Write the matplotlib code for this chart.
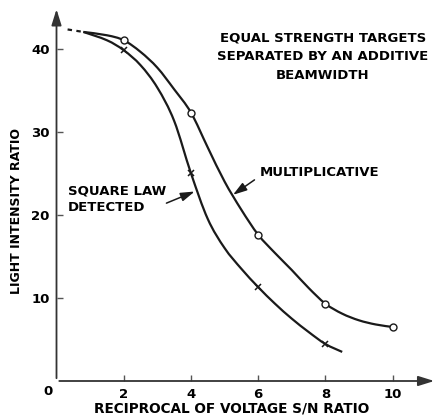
import numpy as np
import matplotlib.pyplot as plt
from matplotlib.path import Path
from matplotlib.patches import PathPatch

# valeurs
x_mult = [0.8, 1.5, 2.0, 2.5, 3.0, 3.5, 4.0, 4.5, 5.0, 5.5, 6.0,
          6.5, 7.0, 7.5, 8.0, 8.5, 9.0, 9.5, 10.0]
y_mult = [42.0, 41.6, 41.0, 39.6, 37.7, 35.1, 32.3, 28.1, 24.0, 20.6, 17.6,
          15.4, 13.35, 11.2, 9.3, 8.1, 7.3, 6.8, 6.5]

x_sq = [0.8, 1.5, 2.0, 2.5, 3.0, 3.5, 4.0, 4.5, 5.0, 5.5, 6.0,
        6.5, 7.0, 7.5, 8.0, 8.5]
y_sq = [42.0, 41.0, 39.8, 38.0, 35.3, 31.3, 25.0, 19.5, 16.0, 13.5, 11.3,
        9.3, 7.5, 5.9, 4.45, 3.5]

x_pts_mult = [2, 4, 6, 8, 10]
y_pts_mult = [41.0, 32.3, 17.6, 9.3, 6.5]
x_pts_sq = [2, 4, 6, 8]
y_pts_sq = [39.8, 25.0, 11.3, 4.45]

x_dash = [0.33, 0.8]
y_dash = [42.3, 42.0]

xticks = [2, 4, 6, 8, 10]
yticks = [10, 20, 30, 40]


def courbe_lisse(xs, ys):
    # courbe de bezier qui passe par les points (catmull-rom)
    p = np.column_stack([xs, ys])
    p = np.vstack([p[0], p, p[-1]])
    verts = [p[1]]
    codes = [Path.MOVETO]
    for i in range(1, len(p) - 2):
        c1 = p[i] + (p[i + 1] - p[i - 1]) / 6
        c2 = p[i + 1] - (p[i + 2] - p[i]) / 6
        verts += [c1, c2, p[i + 1]]
        codes += [Path.CURVE4] * 3
    return Path(verts, codes)


fig = plt.figure(figsize=(4.4, 4.19), dpi=100)
ax = fig.add_axes([56.5 / 440, 38 / 419, 380.5 / 440, 369 / 419])
ax.set_xlim(0, 11.32)
ax.set_ylim(0, 44.4)

noir = '#1a1a1a'
for xs, ys in [(x_mult, y_mult), (x_sq, y_sq)]:
    ax.add_patch(PathPatch(courbe_lisse(xs, ys), fill=False, ec=noir, lw=1.6))
ax.plot(x_dash, y_dash, color=noir, lw=1.6, ls=(0, (2, 2)))
ax.plot(x_pts_mult, y_pts_mult, 'o', ms=5, mfc='white', mec=noir, mew=1.0)
ax.plot(x_pts_sq, y_pts_sq, 'x', ms=5, color=noir, mew=1.1)

# axes avec fleches
for s in ax.spines.values():
    s.set_visible(False)
ax.annotate('', xy=(1.0, 0), xytext=(0, 0), xycoords='axes fraction',
            arrowprops=dict(arrowstyle='-|>,head_length=0.8,head_width=0.25',
                            color='#333333', lw=1.3, mutation_scale=12))
ax.annotate('', xy=(0, 1.015), xytext=(0, 0), xycoords='axes fraction',
            arrowprops=dict(arrowstyle='-|>,head_length=0.8,head_width=0.25',
                            color='#333333', lw=1.3, mutation_scale=12))

ax.set_xticks(xticks)
ax.set_yticks(yticks)
ax.tick_params(direction='in', length=4, width=1, color='#555555',
               labelsize=9.5, pad=5)
for lab in ax.get_xticklabels() + ax.get_yticklabels():
    lab.set_fontweight('bold')
ax.text(-0.25, -1.3, '0', ha='center', va='center', fontsize=9.5,
        fontweight='bold', clip_on=False)

fig.text(17 / 440, 1 - 211 / 419, 'LIGHT INTENSITY RATIO', rotation=90,
         ha='center', va='center', fontsize=9, fontweight='bold')
fig.text(232 / 440, 1 - 408 / 419, 'RECIPROCAL OF VOLTAGE S/N RATIO',
         ha='center', va='center', fontsize=9.8, fontweight='bold')

ax.text(7.92, 39.0, 'EQUAL STRENGTH TARGETS\nSEPARATED BY AN ADDITIVE\nBEAMWIDTH',
        ha='center', va='center', fontsize=9.5, fontweight='bold',
        linespacing=1.55)
ax.text(6.04, 25.1, 'MULTIPLICATIVE', ha='left', va='center', fontsize=9.5,
        fontweight='bold')
ax.text(0.33, 21.85, 'SQUARE LAW\nDETECTED', ha='left', va='center',
        fontsize=9.5, fontweight='bold', linespacing=1.4)

fleche = dict(arrowstyle='-|>,head_length=0.7,head_width=0.22', color=noir,
              lw=1.1, mutation_scale=12, shrinkA=0, shrinkB=0)
ax.annotate('', xy=(4.11, 22.8), xytext=(3.27, 21.4), arrowprops=fleche)
ax.annotate('', xy=(5.25, 22.4), xytext=(5.89, 24.2), arrowprops=fleche)

plt.savefig('out.png', dpi=100)
